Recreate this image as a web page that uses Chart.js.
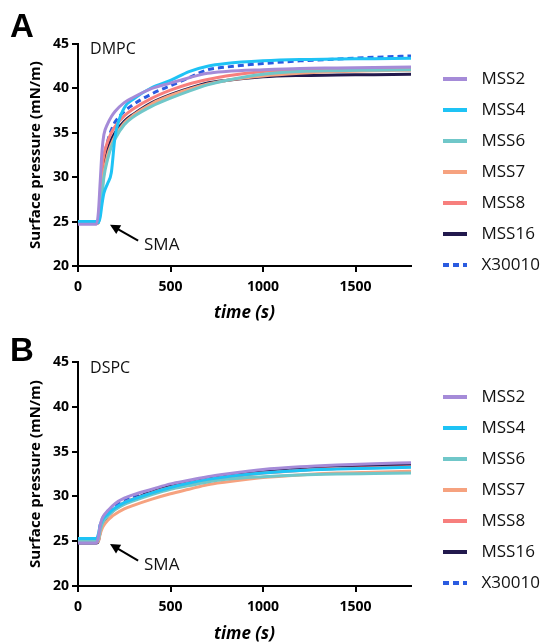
<!DOCTYPE html>
<html><head><meta charset="utf-8">
<script src="https://cdn.jsdelivr.net/npm/chart.js@4/dist/chart.umd.min.js"></script>
<style>
html,body{margin:0;padding:0;background:#fff;}
#wrap{position:relative;width:548px;height:643px;}
canvas{position:absolute;left:0;}
</style></head><body>
<div id="wrap">
<canvas id="cA" width="548" height="321" style="top:0"></canvas>
<canvas id="cB" width="548" height="322" style="top:321px"></canvas>
</div>
<script>
// ---- data ----
const times = [0, 50, 100, 110, 120, 130, 140, 160, 180, 200, 250, 300, 400, 500, 600, 700, 800, 1000, 1200, 1400, 1600, 1800];
const seriesNames = ['MSS2', 'MSS4', 'MSS6', 'MSS7', 'MSS8', 'MSS16', 'X30010'];
const xTicks = [0, 500, 1000, 1500];
const yTicks = [20, 25, 30, 35, 40, 45];

// Panel A: DMPC
const dmpcMSS2   = [24.7, 24.7, 24.7, 26.0, 29.5, 33.0, 34.8, 36.0, 36.8, 37.4, 38.4, 39.0, 40.0, 40.6, 41.2, 41.7, 41.9, 42.1, 42.25, 42.3, 42.35, 42.4];
const dmpcMSS4   = [25.0, 25.0, 25.0, 24.9, 25.5, 27.0, 28.2, 29.3, 30.5, 34.5, 37.8, 38.8, 40.1, 40.9, 41.9, 42.5, 42.8, 43.1, 43.25, 43.3, 43.35, 43.4];
const dmpcMSS6   = [24.9, 24.9, 24.9, 24.9, 26.0, 28.0, 30.0, 32.0, 33.4, 34.3, 35.9, 36.8, 38.0, 38.9, 39.7, 40.4, 40.9, 41.6, 41.9, 42.0, 42.05, 42.1];
const dmpcMSS7   = [24.8, 24.8, 24.8, 24.9, 26.3, 28.5, 30.5, 32.5, 33.7, 34.6, 36.1, 37.0, 38.3, 39.2, 39.9, 40.5, 40.9, 41.4, 41.7, 41.9, 42.0, 42.05];
const dmpcMSS8   = [24.8, 24.8, 24.8, 25.0, 28.0, 31.0, 32.5, 34.0, 35.0, 35.7, 36.9, 37.7, 38.9, 39.8, 40.5, 41.0, 41.4, 41.9, 42.1, 42.15, 42.15, 42.2];
const dmpcMSS16  = [24.8, 24.8, 24.8, 24.9, 26.5, 29.0, 31.0, 33.0, 34.2, 35.0, 36.3, 37.1, 38.4, 39.3, 40.0, 40.6, 40.9, 41.3, 41.45, 41.5, 41.55, 41.6];
const dmpcX30010 = [24.9, 24.9, 24.9, 25.2, 27.0, 30.0, 32.0, 34.0, 35.3, 36.2, 37.4, 38.2, 39.4, 40.3, 41.2, 42.1, 42.4, 42.8, 43.1, 43.3, 43.5, 43.65];

// Panel B: DSPC
const dspcMSS2   = [24.8, 24.8, 24.8, 25.5, 26.8, 27.5, 27.9, 28.4, 28.8, 29.2, 29.8, 30.2, 30.8, 31.4, 31.8, 32.2, 32.5, 33.0, 33.3, 33.5, 33.65, 33.75];
const dspcMSS4   = [25.3, 25.3, 25.3, 25.8, 26.8, 27.3, 27.6, 28.0, 28.4, 28.7, 29.3, 29.7, 30.4, 31.0, 31.5, 31.9, 32.2, 32.6, 32.9, 33.05, 33.15, 33.25];
const dspcMSS6   = [25.0, 25.0, 25.0, 25.2, 26.2, 26.9, 27.3, 27.8, 28.2, 28.5, 29.1, 29.5, 30.2, 30.8, 31.2, 31.6, 31.9, 32.2, 32.4, 32.5, 32.55, 32.6];
const dspcMSS7   = [24.9, 24.9, 24.9, 25.0, 25.8, 26.4, 26.8, 27.3, 27.7, 28.0, 28.6, 29.0, 29.7, 30.3, 30.8, 31.3, 31.6, 32.1, 32.4, 32.6, 32.7, 32.8];
const dspcMSS8   = [25.0, 25.0, 25.0, 25.2, 26.3, 27.0, 27.4, 27.9, 28.3, 28.6, 29.3, 29.7, 30.4, 31.0, 31.4, 31.8, 32.1, 32.6, 32.9, 33.1, 33.2, 33.3];
const dspcMSS16  = [24.8, 24.8, 24.8, 25.0, 26.0, 26.8, 27.2, 27.8, 28.2, 28.6, 29.2, 29.7, 30.5, 31.2, 31.7, 32.1, 32.4, 32.9, 33.2, 33.35, 33.45, 33.5];
const dspcX30010 = [25.1, 25.1, 25.1, 25.3, 26.8, 27.4, 27.8, 28.3, 28.6, 28.9, 29.5, 29.9, 30.5, 31.0, 31.5, 31.9, 32.2, 32.7, 33.0, 33.2, 33.3, 33.4];

// ---- styles ----
const colors = ['#a58bd8', '#1ec3f5', '#70c7c9', '#f6a27f', '#f77f7d', '#22194d', '#2a5be0'];
const dashes = [[], [], [], [], [], [], [6, 4]];
const FONT = "'Open Sans', sans-serif";

function legendSample(color, dash) {
  const c = document.createElement('canvas');
  c.width = 48; c.height = 6;
  const g = c.getContext('2d');
  g.strokeStyle = color; g.lineWidth = 4; g.setLineDash(dash);
  g.beginPath(); g.moveTo(18, 3); g.lineTo(42, 3); g.stroke();
  return c;
}

function makeDatasets(valueLists) {
  return valueLists.map((vals, i) => ({
    label: seriesNames[i],
    data: times.map((t, k) => ({x: t, y: vals[k]})),
    borderColor: colors[i],
    backgroundColor: colors[i],
    borderWidth: 3,
    borderDash: dashes[i],
    pointRadius: 0,
    pointStyle: legendSample(colors[i], dashes[i]),
    cubicInterpolationMode: 'monotone',
    fill: false
  }));
}

const annot = {
  id: 'annot',
  afterDraw(chart, args, o) {
    const {ctx} = chart;
    const xs = chart.scales.x, ys = chart.scales.y;
    ctx.save();
    ctx.fillStyle = '#000';
    ctx.font = "bold 33px 'Liberation Sans', Arial, sans-serif";
    ctx.textBaseline = 'alphabetic';
    ctx.textAlign = 'left';
    ctx.fillText(o.letter, 10, o.letterBase);
    ctx.textBaseline = 'middle';
    ctx.fillStyle = '#111';
    ctx.font = '16px ' + FONT;
    ctx.fillText(o.lipid, xs.getPixelForValue(o.lipidAt[0]), ys.getPixelForValue(o.lipidAt[1]));
    ctx.font = '17px ' + FONT;
    ctx.fillText('SMA', xs.getPixelForValue(o.smaAt[0]), ys.getPixelForValue(o.smaAt[1]));
    const x1 = xs.getPixelForValue(o.arrowFrom[0]), y1 = ys.getPixelForValue(o.arrowFrom[1]);
    const x2 = xs.getPixelForValue(o.arrowTo[0]), y2 = ys.getPixelForValue(o.arrowTo[1]);
    const a = Math.atan2(y2 - y1, x2 - x1), h = 10;
    ctx.strokeStyle = '#000'; ctx.lineWidth = 2;
    ctx.beginPath(); ctx.moveTo(x1, y1);
    ctx.lineTo(x2 - Math.cos(a) * h * 0.8, y2 - Math.sin(a) * h * 0.8); ctx.stroke();
    ctx.beginPath(); ctx.moveTo(x2, y2);
    ctx.lineTo(x2 - h * Math.cos(a) + 5 * Math.sin(a), y2 - h * Math.sin(a) - 5 * Math.cos(a));
    ctx.lineTo(x2 - h * Math.cos(a) - 5 * Math.sin(a), y2 - h * Math.sin(a) + 5 * Math.cos(a));
    ctx.closePath(); ctx.fillStyle = '#000'; ctx.fill();
    ctx.restore();
  }
};

function makeChart(id, valueLists, cfg) {
  return new Chart(document.getElementById(id), {
    type: 'line',
    data: {datasets: makeDatasets(valueLists)},
    plugins: [annot],
    options: {
      responsive: false,
      animation: false,
      events: [],
      layout: {padding: {top: cfg.padTop, left: 0, right: cfg.padRight, bottom: cfg.padBottom}},
      plugins: {
        tooltip: {enabled: false},
        legend: {
          position: 'right',
          align: 'center',
          labels: {
            usePointStyle: true,
            pointStyleWidth: 48,
            padding: 14,
            color: '#111',
            font: {family: FONT, size: 17}
          }
        },
        annot: cfg.annot
      },
      scales: {
        x: {
          type: 'linear', min: 0, max: 1800,
          afterBuildTicks: s => { s.ticks = xTicks.map(v => ({value: v})); },
          afterFit: s => { s.height = cfg.xHeight; },
          border: {display: true, color: '#000', width: 2},
          grid: {display: true, drawOnChartArea: false, drawTicks: true, tickLength: 6, color: '#000', lineWidth: 2},
          ticks: {color: '#000', padding: 7, maxRotation: 0, callback: v => String(v),
                  font: {family: FONT, size: 14, weight: 'bold'}},
          title: {display: true, text: 'time (s)', color: '#000', padding: {top: 0, bottom: cfg.xTitlePad},
                  font: {family: FONT, size: 17, weight: 'bold', style: 'italic', lineHeight: 1}}
        },
        y: {
          type: 'linear', min: 20, max: 45,
          afterBuildTicks: s => { s.ticks = yTicks.map(v => ({value: v})); },
          afterFit: s => { s.width = 78; },
          border: {display: true, color: '#000', width: 2},
          grid: {display: true, drawOnChartArea: false, drawTicks: true, tickLength: 6, color: '#000', lineWidth: 2},
          ticks: {color: '#000', padding: 3, callback: v => String(v),
                  font: {family: FONT, size: 14, weight: 'bold'}},
          title: {display: true, text: 'Surface pressure (mN/m)', color: '#000', padding: {top: 27, bottom: 0},
                  font: {family: FONT, size: 15, weight: 'bold', lineHeight: 1.2}}
        }
      }
    }
  });
}

makeChart('cA', [dmpcMSS2, dmpcMSS4, dmpcMSS6, dmpcMSS7, dmpcMSS8, dmpcMSS16, dmpcX30010], {
  padTop: 44, padRight: 0, padBottom: 21, xHeight: 34, xTitlePad: -21.5,
  annot: {letter: 'A', letterBase: 37, lipid: 'DMPC', lipidAt: [65, 44.4], smaAt: [357, 22.35],
          arrowFrom: [325, 22.85], arrowTo: [173, 24.65]}
});
makeChart('cB', [dspcMSS2, dspcMSS4, dspcMSS6, dspcMSS7, dspcMSS8, dspcMSS16, dspcX30010], {
  padTop: 41, padRight: 0, padBottom: 25, xHeight: 32, xTitlePad: -24.5,
  annot: {letter: 'B', letterBase: 40, lipid: 'DSPC', lipidAt: [65, 44.3], smaAt: [357, 22.35],
          arrowFrom: [325, 22.82], arrowTo: [173, 24.69]}
});
</script>
</body></html>
